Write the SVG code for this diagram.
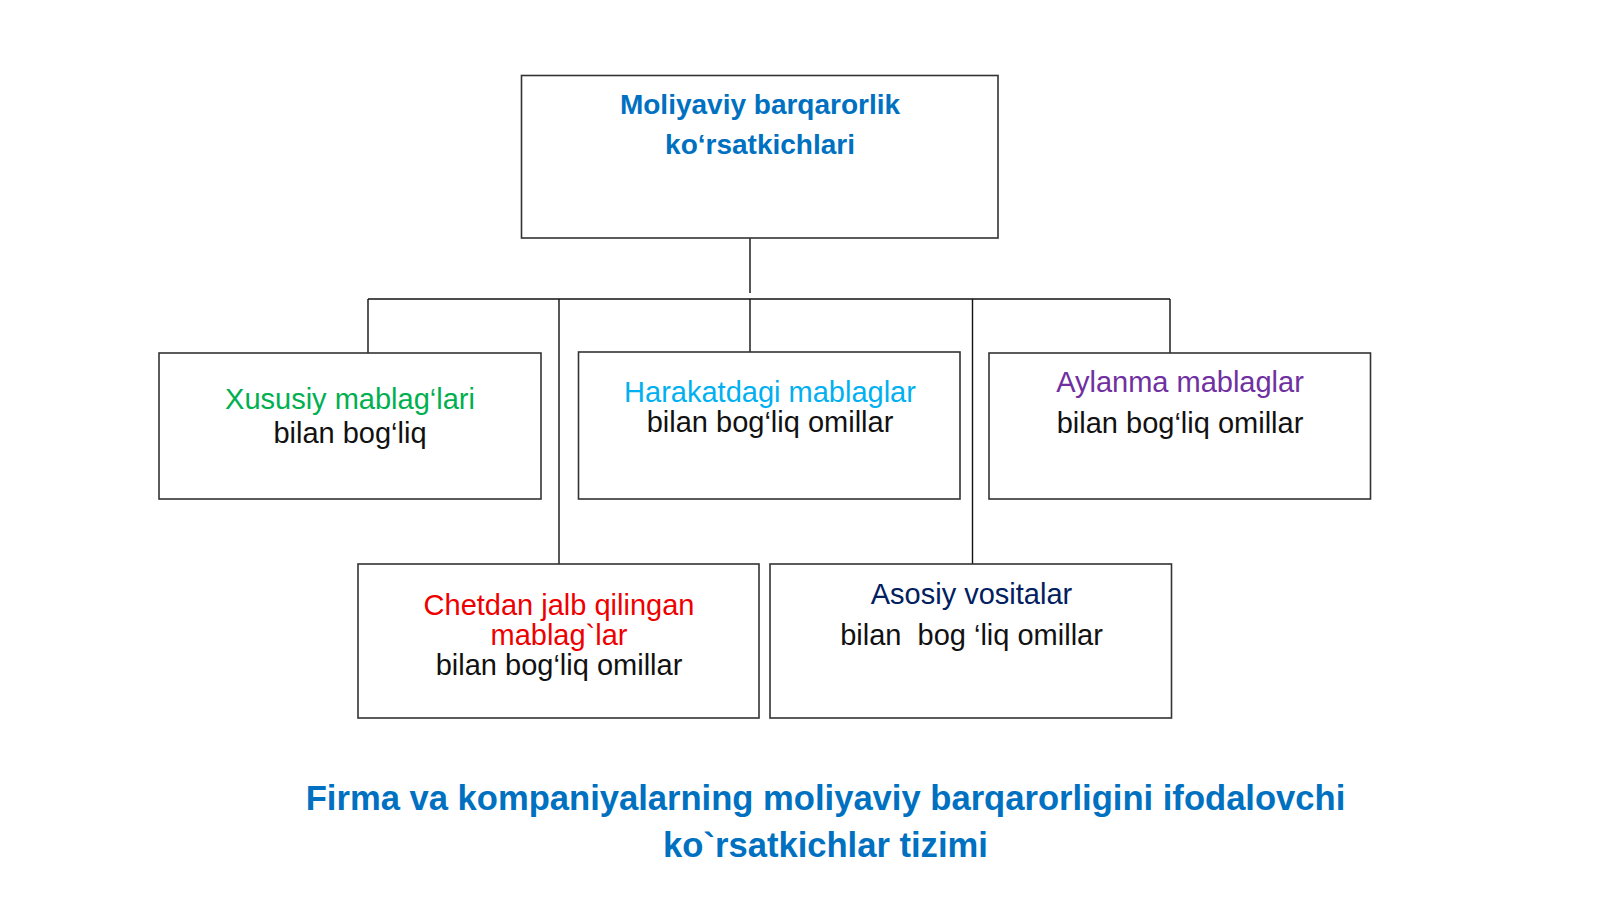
<svg xmlns="http://www.w3.org/2000/svg" width="1600" height="900" viewBox="0 0 1600 900">
<style>
  .box { fill: #ffffff; stroke: #333333; stroke-width: 1.6; }
  .conn { stroke: #111111; stroke-width: 1.4; fill: none; }
  text { font-family: "Liberation Sans", Arial, sans-serif; text-anchor: middle; white-space: pre; }
  .head { font-weight: bold; font-size: 28px; fill: #0070C0; }
  .t { font-size: 29px; fill: #111111; }
  .cap { font-weight: bold; font-size: 34.6px; fill: #0070C0; }
</style>
<rect width="1600" height="900" fill="#ffffff"/>
<g id="connectors">
  <line class="conn" x1="750" y1="238" x2="750" y2="293"/>
  <line class="conn" x1="368" y1="299" x2="1170" y2="299"/>
  <line class="conn" x1="368" y1="299" x2="368" y2="353"/>
  <line class="conn" x1="559" y1="299" x2="559" y2="564"/>
  <line class="conn" x1="750" y1="299" x2="750" y2="352"/>
  <line class="conn" x1="972.5" y1="299" x2="972.5" y2="564"/>
  <line class="conn" x1="1170" y1="299" x2="1170" y2="353"/>
</g>
<g id="root">
  <rect class="box" x="521.5" y="75.5" width="476.5" height="162.5"/>
  <text class="head" x="760" y="113.5">Moliyaviy barqarorlik</text>
  <text class="head" x="760" y="154">ko‘rsatkichlari</text>
</g>
<g id="xususiy">
  <rect class="box" x="159" y="353" width="382" height="146"/>
  <text class="t" x="350" y="408.5" style="fill:#00B050">Xususiy mablag‘lari</text>
  <text class="t" x="350" y="442.5">bilan bog‘liq</text>
</g>
<g id="harakatdagi">
  <rect class="box" x="578.5" y="352" width="381.5" height="147"/>
  <text class="t" x="770" y="402" style="fill:#00B0F0">Harakatdagi mablaglar</text>
  <text class="t" x="770" y="432">bilan bog‘liq omillar</text>
</g>
<g id="aylanma">
  <rect class="box" x="989" y="353" width="381.5" height="146"/>
  <text class="t" x="1180" y="391.5" style="fill:#7030A0">Aylanma mablaglar</text>
  <text class="t" x="1180" y="433">bilan bog‘liq omillar</text>
</g>
<g id="chetdan">
  <rect class="box" x="358" y="564" width="401" height="154"/>
  <text class="t" x="559" y="614.5" style="fill:#EE0000">Chetdan jalb qilingan</text>
  <text class="t" x="559" y="644.5" style="fill:#EE0000">mablag`lar</text>
  <text class="t" x="559" y="675">bilan bog‘liq omillar</text>
</g>
<g id="asosiy">
  <rect class="box" x="770" y="564" width="401.5" height="154"/>
  <text class="t" x="971.5" y="603.5" style="fill:#002060">Asosiy vositalar</text>
  <text class="t" x="971.5" y="644.5">bilan  bog ‘liq omillar</text>
</g>
<g id="caption">
  <text class="cap" x="825.5" y="809.5">Firma va kompaniyalarning moliyaviy barqarorligini ifodalovchi</text>
  <text class="cap" x="825.5" y="856.5">ko`rsatkichlar tizimi</text>
</g>
</svg>
